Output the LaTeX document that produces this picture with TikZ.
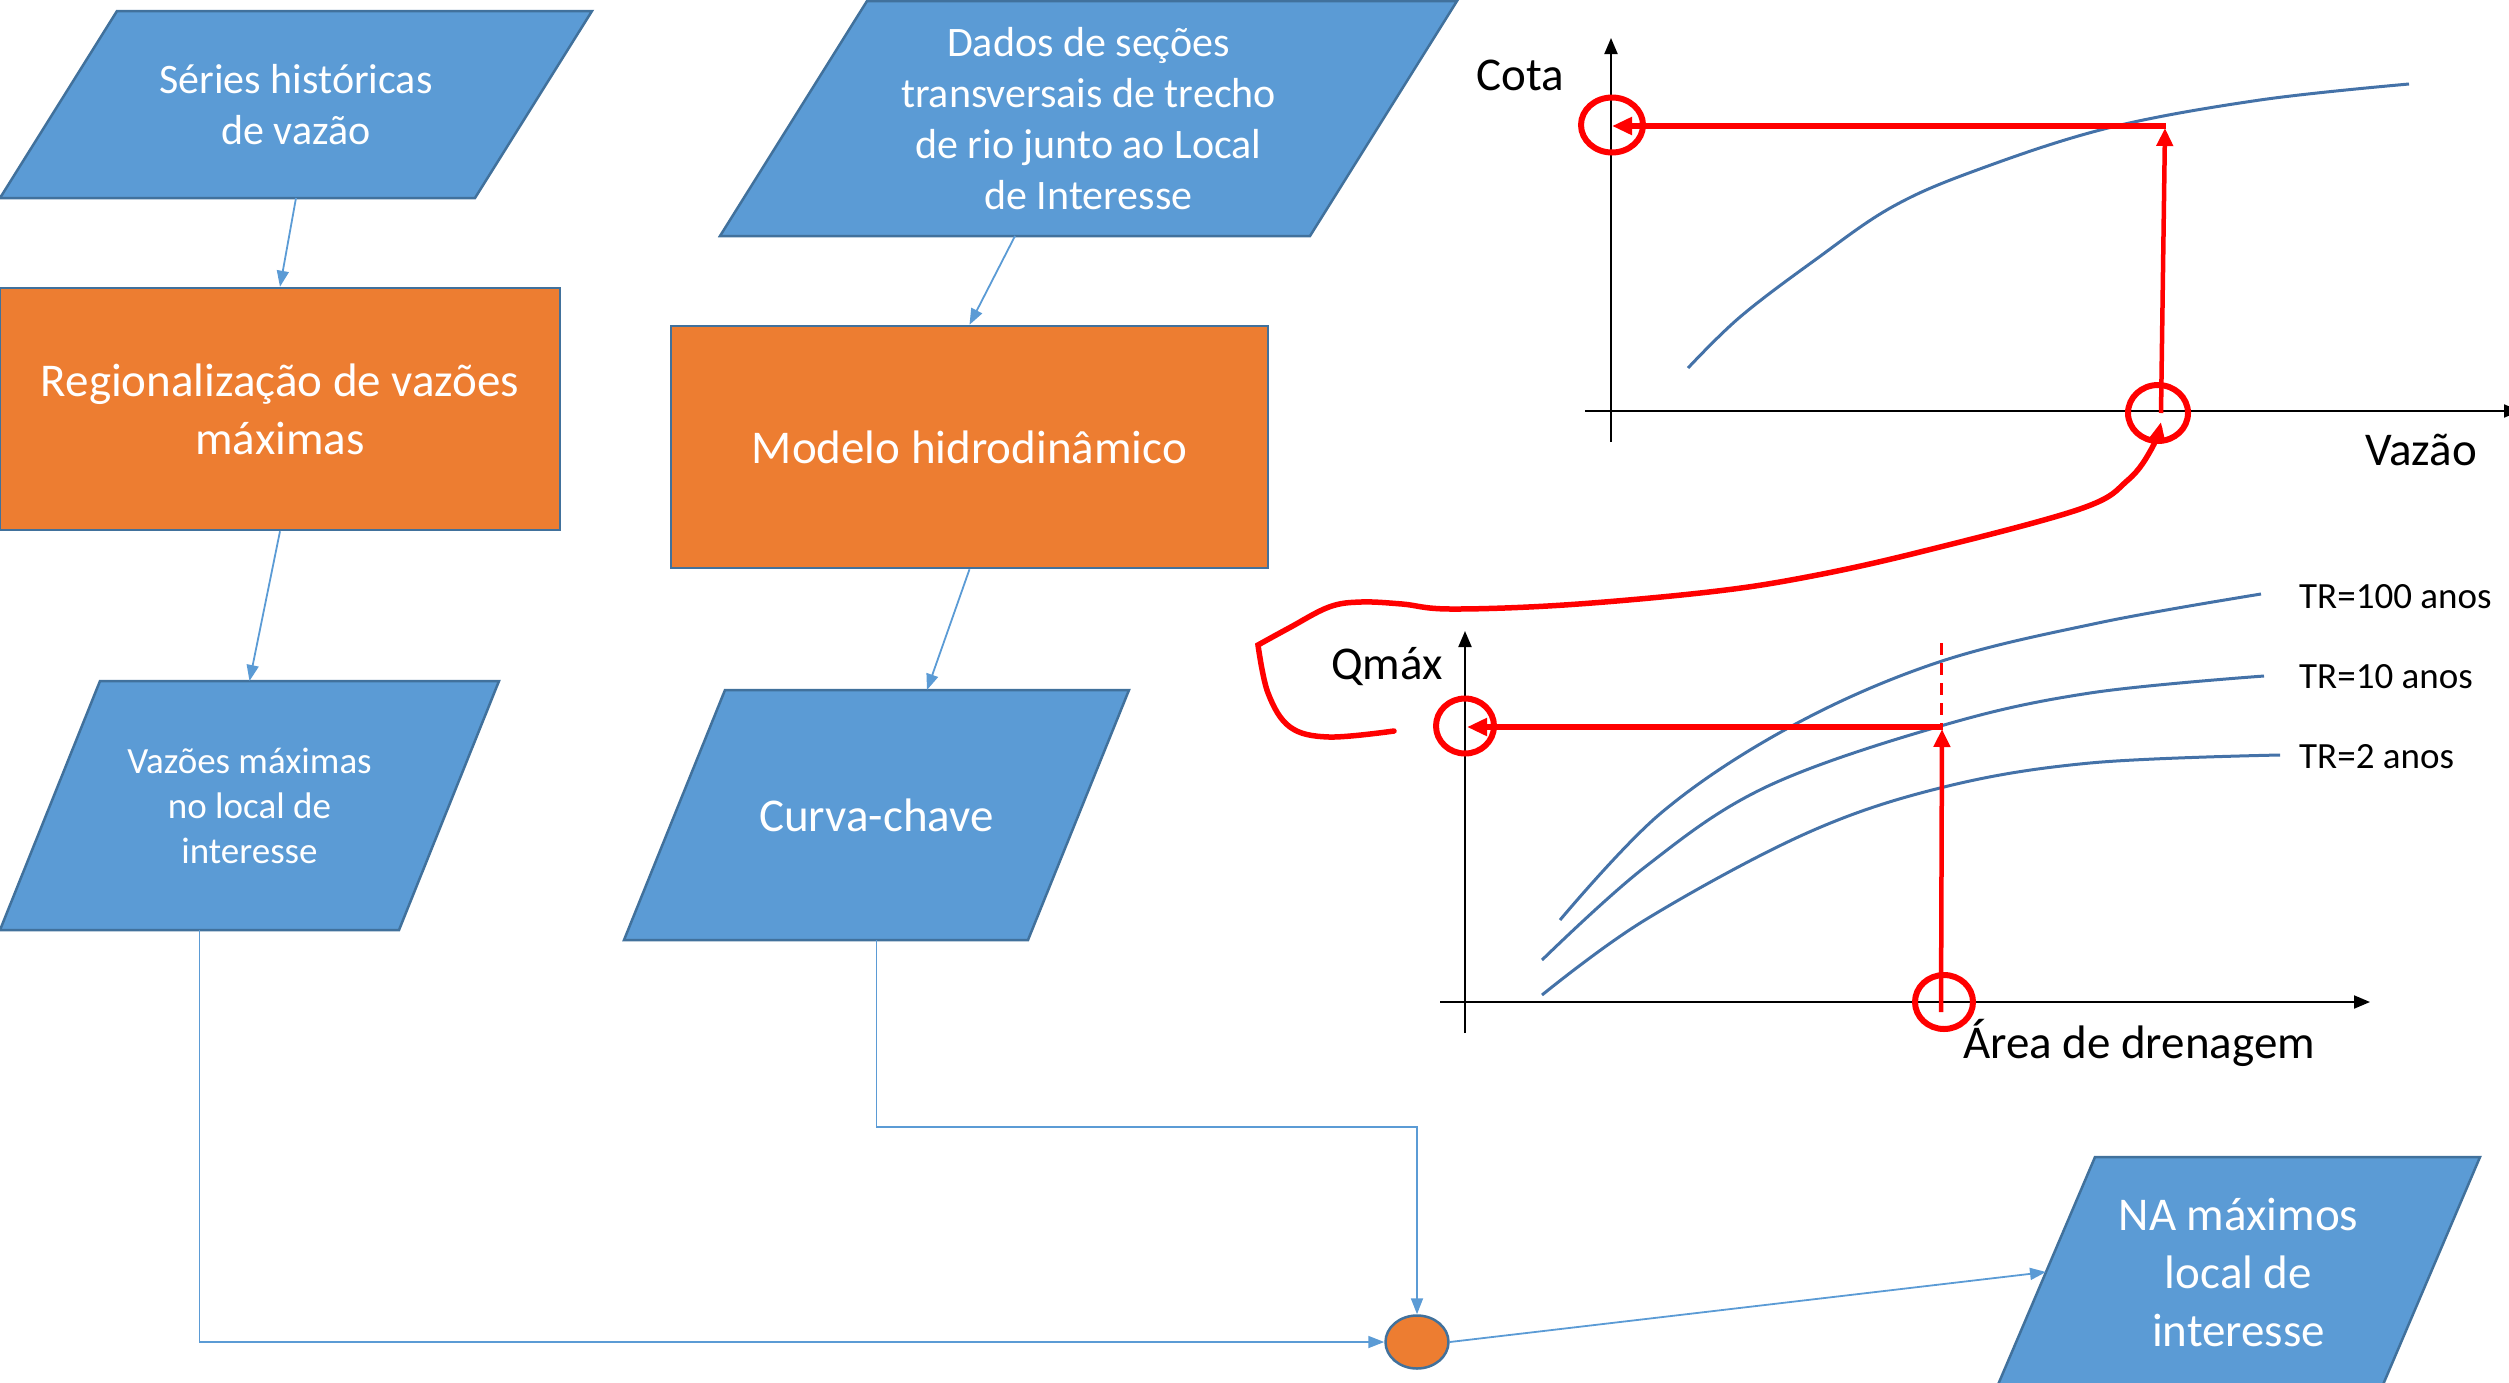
\documentclass[tikz,border=0pt]{standalone}
\usepackage{fontspec}
\setmainfont{Carlito}
\usetikzlibrary{shapes.geometric,arrows.meta}
\definecolor{bluef}{RGB}{91,155,213}
\definecolor{bordc}{RGB}{65,113,156}
\definecolor{orangef}{RGB}{237,125,49}
\definecolor{curvec}{RGB}{68,114,168}
\definecolor{redc}{RGB}{255,0,0}
\newcommand\fsz[2]{\fontsize{#1}{#2}\selectfont}
% #1 name, #2 x0, #3 x1, #4 y0 (top), #5 y1 (bottom), #6 slant, #7 font, #8 text
\newcommand\paranode[8]{%
  \draw[parabox] ({#2+#6},#4) -- (#3,#4) -- ({#3-#6},#5) -- (#2,#5) -- cycle;
  \node[paratext, font=#7] (#1) at ({(#2+#3)/2},{(#4+#5)/2}) {#8};
  \coordinate (#1-n) at ({(#2+#3)/2},#4);
  \coordinate (#1-s) at ({(#2+#3)/2},#5);
  \coordinate (#1-ts) at ({(#2+#6+#3)/2},#4);
  \coordinate (#1-bs) at ({(#2+#3-#6)/2},#5);
  \coordinate (#1-w) at ({#2+#6/2},{(#4+#5)/2});
}
\begin{document}
\begin{tikzpicture}[x=1pt,y=-1pt,
  parabox/.style={draw=bordc, fill=bluef, line width=2.5pt, line join=miter},
  paratext/.style={text=white, align=center, inner sep=0pt},
  procbox/.style={rectangle, draw=bordc, fill=orangef, line width=2.5pt, text=white, align=center, inner sep=0pt},
  conn/.style={draw=bluef, line width=1.8pt, -{Triangle[length=16pt,width=12pt]}},
  axisln/.style={black, line width=2pt, -{Triangle[length=16pt,width=13pt]}},
  crv/.style={curvec, line width=3pt},
  lbl/.style={text=black, inner sep=0pt, font=\fsz{47}{57}},
  trl/.style={text=black, inner sep=0pt, anchor=west, font=\fsz{37}{45}},
  rcirc/.style={ellipse, draw=redc, line width=6pt, inner sep=0pt},
  rthick/.style={redc, line width=6pt, -{Triangle[length=20pt,width=17pt]}},
  rmid/.style={redc, line width=4.5pt, -{Triangle[length=18pt,width=16pt]}},
]
\useasboundingbox (0,0) rectangle (2509,1382);
\clip (0,0) rectangle (2509,1382);

% flowchart nodes
\paranode{ser}{0}{592}{11}{198}{117}{\fsz{42}{51}}{Séries históricas\\de vazão}
\paranode{dad}{720}{1457}{1}{236}{147}{\fsz{42}{51}}{Dados de seções\\transversais de trecho\\de rio junto ao Local\\de Interesse}
\node[procbox, minimum width=560pt, minimum height=242pt, font=\fsz{47}{58}] (reg) at (280,409) {Regionalização de vazões\\máximas};
\node[procbox, minimum width=597pt, minimum height=242pt, font=\fsz{47}{58}] (mod) at (969.5,447) {Modelo hidrodinâmico};
\paranode{vaz}{0}{499}{681}{930}{100}{\fsz{37}{45}}{Vazões máximas\\no local de\\interesse}
\paranode{cur}{624}{1129}{690}{940}{101}{\fsz{47}{58}}{Curva-chave}
\paranode{na}{1997}{2480}{1157}{1387}{98}{\fsz{47}{58}}{NA máximos\\local de\\interesse}
\node[ellipse, draw=bordc, fill=orangef, line width=2.5pt, minimum width=63pt, minimum height=53pt, inner sep=0pt] (ell) at (1417,1342) {};

% connectors
\draw[conn] (ser-s) -- (reg.north);
\draw[conn] (dad-bs) -- (mod.north);
\draw[conn] (reg.south) -- (vaz-n);
\draw[conn] (mod.south) -- (cur-ts);
\draw[conn] (vaz-bs) |- (ell.west);
\coordinate (bnd) at (1417,1127);
\draw[conn] (cur-s) |- (bnd) -- (ell.north);
\draw[conn] (ell.east) -- (na-w);

% upper chart (Cota x Vazao)
\coordinate (ay1a) at (1611,442); \coordinate (ay1b) at (1611,38);
\coordinate (ax1a) at (1585,411); \coordinate (ax1b) at (2520,411);
\draw[axisln] (ay1a) -- (ay1b);
\draw[axisln] (ax1a) -- (ax1b);
\draw[crv] plot[smooth, tension=0.6] coordinates {(1688,368) (1740,317) (1815,260) (1892,207) (1977,170) (2108,128) (2260,100) (2409,84)};
\node[lbl] (cota) at (1520,75) {Cota};
\node[lbl] (vazao) at (2421,450) {Vazão};

% lower chart (Qmax x Area)
\coordinate (ay2a) at (1465,1033); \coordinate (ay2b) at (1465,631);
\coordinate (ax2a) at (1440,1002); \coordinate (ax2b) at (2370,1002);
\draw[axisln] (ay2a) -- (ay2b);
\draw[axisln] (ax2a) -- (ax2b);
\draw[crv] plot[smooth, tension=0.6] coordinates {(1560,920) (1661,813) (1790,727) (1936,663) (2098,623) (2261,594)};
\draw[crv] plot[smooth, tension=0.6] coordinates {(1542,960) (1645,867) (1766,787) (1944,725) (2090,693) (2264,676)};
\draw[crv] plot[smooth, tension=0.6] coordinates {(1542,995) (1645,920) (1807,833) (1944,787) (2090,763) (2280,755)};
\node[trl] (tr100) at (2299,597) {TR=100 anos};
\node[trl] (tr10) at (2299,677) {TR=10 anos};
\node[trl] (tr2) at (2299,757) {TR=2 anos};
\node[lbl] (qmax) at (1387,667) {Qmáx};
\node[lbl] (area) at (2139,1043) {Área de drenagem};

% red annotations
\node[rcirc, minimum width=62pt, minimum height=55pt] (rc1) at (1612,125) {};
\node[rcirc, minimum width=60pt, minimum height=56pt] (rc2) at (2158,413) {};
\node[rcirc, minimum width=58pt, minimum height=55pt] (rc3) at (1465,726) {};
\node[rcirc, minimum width=58pt, minimum height=54pt] (rc4) at (1944,1002) {};

\coordinate (r1a) at (2161,413); \coordinate (r1b) at (2165,128);
\coordinate (r1c) at (2166,126); \coordinate (r1d) at (1612,126);
\draw[rmid] (r1a) -- (r1b);
\draw[rthick] (r1c) -- (r1d);

\coordinate (r2a) at (1941,1012); \coordinate (r2b) at (1942,729);
\coordinate (r2c) at (1943,727); \coordinate (r2d) at (1467,727);
\draw[rmid] (r2a) -- (r2b);
\draw[rthick] (r2c) -- (r2d);
\draw[redc, line width=3pt, dash pattern=on 12pt off 8pt] (1941,643) -- (1941,725);

\draw[redc, line width=5.5pt, line cap=round, -{Triangle[length=18pt,width=15pt]}]
  plot[smooth, tension=0.6] coordinates {(1394,731) (1329,737) (1290,727) (1268,693) (1258,645)}
  -- plot[smooth, tension=0.6] coordinates {(1258,645) (1289,628) (1329,607) (1361,602) (1402,604) (1450,609) (1564,605) (1709,592) (1807,577) (1920,552) (2080,509) (2128,480) (2152,448) (2161,422)};
\end{tikzpicture}
\end{document}
